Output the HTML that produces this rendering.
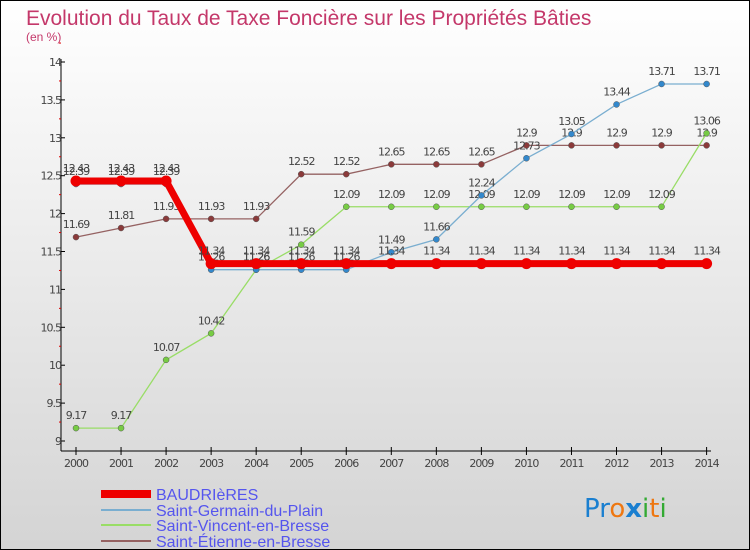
<!DOCTYPE html>
<html><head><meta charset="utf-8"><style>
body{margin:0;}
#c{position:relative;width:748px;height:548px;border:1px solid #000;background:linear-gradient(#ffffff,#d4d4d4);font-family:"DejaVu Sans","Liberation Sans",sans-serif;overflow:hidden}
</style></head><body>
<div id="c">
<svg id="s" width="748" height="548" style="position:absolute;left:0;top:0">
<text x="25" y="24" font-size="21" fill="#c4386a" font-family="Liberation Sans, sans-serif">Evolution du Taux de Taxe Foncière sur les Propriétés Bâties</text>
<text x="25" y="40" font-size="12" fill="#c4386a" font-family="Liberation Sans, sans-serif">(en %)</text>
<g id="axes"></g><g id="series"></g>
<g>
<rect x="100" y="489" width="50" height="8" fill="#ee0000"/>
<line x1="100" x2="150" y1="509" y2="509" stroke="#7aaed0" stroke-width="2"/>
<line x1="100" x2="150" y1="524" y2="524" stroke="#99dd66" stroke-width="2"/>
<line x1="100" x2="150" y1="540" y2="540" stroke="#956262" stroke-width="2"/>
<g font-size="16" fill="#5555ee" font-family="Liberation Sans, sans-serif">
<text x="155" y="499">BAUDRIèRES</text>
<text x="155" y="515">Saint-Germain-du-Plain</text>
<text x="155" y="530">Saint-Vincent-en-Bresse</text>
<text x="155" y="546">Saint-Étienne-en-Bresse</text>
</g></g>
<g font-size="26" font-family="DejaVu Sans, sans-serif">
<text x="583" y="516"><tspan fill="#1a7fd0">Pr</tspan><tspan fill="#ee7711">o</tspan><tspan fill="#1a7fd0" font-weight="bold">x</tspan><tspan fill="#33aa33">i</tspan><tspan fill="#ee7711">t</tspan><tspan fill="#33aa33">i</tspan></text>
</g>
</svg></div>
<script>
const years=[2000,2001,2002,2003,2004,2005,2006,2007,2008,2009,2010,2011,2012,2013,2014];
const baud=[12.43,12.43,12.43,11.34,11.34,11.34,11.34,11.34,11.34,11.34,11.34,11.34,11.34,11.34,11.34];
const germain=[12.39,12.39,12.39,11.26,11.26,11.26,11.26,11.49,11.66,12.24,12.73,13.05,13.44,13.71,13.71];
const vincent=[9.17,9.17,10.07,10.42,11.26,11.59,12.09,12.09,12.09,12.09,12.09,12.09,12.09,12.09,13.06];
const etienne=[11.69,11.81,11.93,11.93,11.93,12.52,12.52,12.65,12.65,12.65,12.9,12.9,12.9,12.9,12.9];
const yTicks=[9,9.5,10,10.5,11,11.5,12,12.5,13,13.5,14];
const NS="http://www.w3.org/2000/svg";
const X=i=>75+i*(705.6-75)/14;
const Y=v=>440-(v-9)*(440-61)/5;
function mk(t,a,p){const e=document.createElementNS(NS,t);for(const k in a)e.setAttribute(k,a[k]);p.appendChild(e);return e;}
const ax=document.getElementById('axes');
const yl=mk('line',{x1:60,x2:60,y1:58,y2:450,stroke:'#000'},ax);


const xl=mk('line',{x1:60,x2:710,y1:450,y2:450,stroke:'#000'},ax);


yTicks.forEach(v=>{
 mk('line',{x1:60,x2:64,y1:Y(v),y2:Y(v),stroke:'#000'},ax);
 mk('line',{x1:58,x2:60,y1:Y(v+0.25),y2:Y(v+0.25),stroke:'#d00'},ax);
 const t=mk('text',{x:60,y:Y(v)+4,'font-size':11,'text-anchor':'end',fill:'#444','letter-spacing':'-1'},ax);
 t.textContent=String(v);
 
 
});
years.forEach((y,i)=>{
 mk('line',{x1:X(i),x2:X(i),y1:446,y2:454,stroke:'#000'},ax);
 const t=mk('text',{x:X(i),y:466,'font-size':11,'text-anchor':'middle',fill:'#444','letter-spacing':'-1'},ax);
 t.textContent=y;
 
 
});
const sg=document.getElementById('series');
function draw(vals,col,w,r,fill,name){
 const g=mk('g',{},sg);
 
 
 mk('polyline',{points:vals.map((v,i)=>X(i)+','+Y(v)).join(' '),fill:'none',stroke:col,'stroke-width':w},g);
 vals.forEach((v,i)=>{
  const c=mk('circle',{cx:X(i),cy:Y(v),r:r,fill:fill,stroke:fill==='#ee0000'?'none':'#555','stroke-width':0.5},g);
  
  
  const t=mk('text',{x:X(i),y:Y(v)-9,'font-size':11,'text-anchor':'middle',fill:'#444','letter-spacing':'-1'},g);
  t.textContent=String(v);
  
  
 });
}
draw(etienne,'#956262',1.3,3,'#8b3a3a','series-saint-etienne');
draw(vincent,'#99dd66',1.3,3,'#77cc44','series-saint-vincent');
draw(germain,'#7aaed0',1.3,3,'#3388cc','series-saint-germain');
draw(baud,'#ee0000',7,5.5,'#ee0000','series-baudrieres');
</script>
</body></html>
